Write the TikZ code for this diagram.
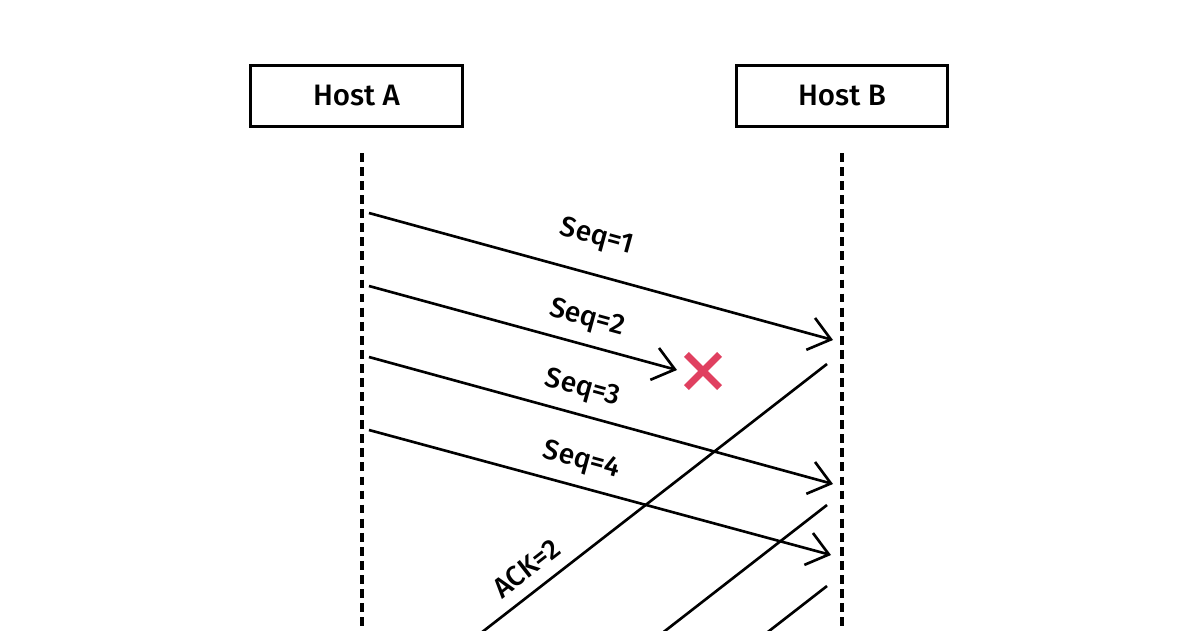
\documentclass[tikz,border=0pt]{standalone}
\usepackage{fontspec}
\setmainfont{Fira Sans}[UprightFont=* Medium]
\usetikzlibrary{arrows.meta,shapes.misc}
\definecolor{lossred}{RGB}{224,64,96}

\tikzset{
	host/.style={draw, line width=0.85pt, minimum width=2.11cm, minimum height=0.6cm, inner sep=0pt, font=\fontsize{8.4}{10}\selectfont},
	lifeline/.style={line width=0.9pt, dash pattern=on 2.5pt off 1.5pt},
	msg/.style={line width=0.75pt, -{Straight Barb[length=2.1mm,width=3.3mm,line width=0.75pt]}},
	ack/.style={line width=0.75pt},
	lbl/.style={font=\fontsize{8}{10}\selectfont, sloped, above=2.3pt, inner sep=1pt},
	lost/.style={cross out, draw=lossred, line width=2pt, minimum size=0.26cm, inner sep=0pt},
}

\begin{document}
\begin{tikzpicture}[x=0.01cm, y=-0.01cm]
	%%%%% FRAME %%%%%
	\useasboundingbox (0, 0) rectangle (1200, 630);
	\clip (0, 0) rectangle (1200, 630);
	
	%%%%% HOSTS %%%%%
	\node[host] (hostA) at (356.5, 96) {Host A};
	\node[host] (hostB) at (842, 96) {Host B};
	
	\coordinate (lineA) at (362, 153);
	\coordinate (lineAend) at (362, 640);
	\coordinate (lineB) at (842, 153);
	\coordinate (lineBend) at (842, 640);
	\draw[lifeline] (lineA) -- (lineAend);
	\draw[lifeline] (lineB) -- (lineBend);
	
	%%%%% SEGMENTS %%%%%
	\coordinate (s1) at (369, 213);   \coordinate (r1) at (833, 340);
	\coordinate (s2) at (369, 286);   \coordinate (r2) at (677, 370);
	\coordinate (s3) at (369, 357);   \coordinate (r3) at (833, 484);
	\coordinate (s4) at (369, 430);   \coordinate (r4) at (831, 555);
	
	\draw[msg] (s1) -- node[lbl, pos=0.47, above=3pt] {Seq=1} (r1);
	\draw[msg] (s2) -- node[lbl, pos=0.685] {Seq=2} (r2);
	\draw[msg] (s3) -- node[lbl, pos=0.445] {Seq=3} (r3);
	\draw[msg] (s4) -- node[lbl, pos=0.445] {Seq=4} (r4);
	
	\node[lost] (drop) at (703, 371) {};
	
	%%%%% ACKS %%%%%
	\coordinate (a1) at (827, 364);   \coordinate (b1) at (369, 720);
	\coordinate (a2) at (827, 505);   \coordinate (b2) at (369, 861);
	\coordinate (a3) at (827, 586);   \coordinate (b3) at (369, 942);
	
	\draw[ack] (a1) -- node[lbl, pos=0.625] {ACK=2} (b1);
	\draw[ack] (a2) -- (b2);
	\draw[ack] (a3) -- (b3);
\end{tikzpicture}
\end{document}
